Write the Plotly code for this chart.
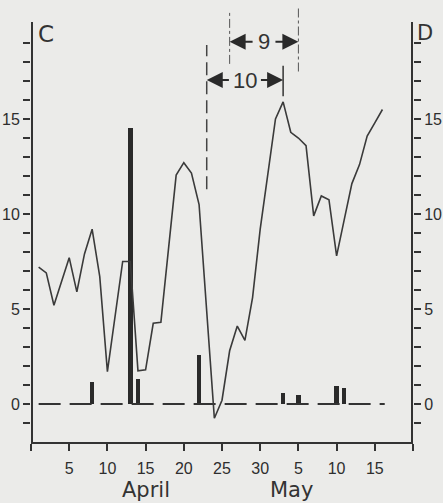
import plotly.graph_objects as go

# ---- data ----
days = list(range(1, 47))  # day index: 1..30 = April 1..30, 31.. = May 1..
values = [7.2, 6.9, 5.2, 6.4, 7.7, 5.9, 7.9, 9.2, 6.7, 1.7,
          4.6, 7.5, 7.5, 1.75, 1.8, 4.25, 4.3, 8.2, 12.05, 12.7,
          12.15, 10.5, 4.9, -0.75, 0.2, 2.8, 4.1, 3.35, 5.6, 9.2,
          12.1, 15.0, 15.9, 14.3, 14.0, 13.6, 9.9, 10.95, 10.75, 7.8,
          9.7, 11.6, 12.6, 14.1, 14.8, 15.5]
bar_days = [8, 13, 14, 22, 33, 35, 40, 41]
bar_values = [1.15, 14.55, 1.3, 2.6, 0.6, 0.5, 0.95, 0.85]
baseline_start = 1
baseline_end = 46.3

x_tickvals = [0, 5, 10, 15, 20, 25, 30, 35, 40, 45, 50]
x_ticktext = ["", "5", "10", "15", "20", "25", "30", "5", "10", "15", ""]
y_tickvals = list(range(-1, 20))
y_ticktext = [str(v) if v in (0, 5, 10, 15) else "" for v in y_tickvals]
month_labels = ["April", "May"]
month_pos = [15, 34.1]

# interval markers (day positions)
dash_line_day = 23
dashdot_days = [26, 35]
solid_mark_day = 33
interval_10 = (23, 33, "10")
interval_9 = (26, 35, "9")

X_MIN, X_MAX = 0, 50
Y_MIN, Y_AXIS_TOP, Y_MAX = -2, 20.1, 21

INK = "#333333"
BG = "#ebebe9"
TICKFONT = dict(family="Liberation Sans Narrow, Arial Narrow, sans-serif", size=16, color="#2e2e2e")

fig = go.Figure()

# vertical axis lines (drawn as traces, stopping at 20)
for xa in (X_MIN, X_MAX):
    fig.add_trace(go.Scatter(x=[xa, xa], y=[Y_MIN, Y_AXIS_TOP], mode="lines",
                             line=dict(color=INK, width=4), hoverinfo="skip"))

fig.add_trace(go.Scatter(
    x=[baseline_start, baseline_end], y=[0, 0], mode="lines",
    line=dict(color=INK, width=2, dash="22px,9px"), hoverinfo="skip"))

fig.add_trace(go.Bar(
    x=bar_days, y=bar_values, width=[0.55, 0.65, 0.55, 0.55, 0.55, 0.55, 0.6, 0.55],
    marker=dict(color="#2a2a2a", line=dict(width=0))))

fig.add_trace(go.Scatter(
    x=days, y=values, mode="lines",
    line=dict(color="#3a3a3a", width=1.6)))

# dummy trace for the right axis
fig.add_trace(go.Scatter(x=[None], y=[None], yaxis="y2", showlegend=False))

shapes = []
shapes.append(dict(type="line", xref="x", yref="y", x0=dash_line_day, x1=dash_line_day,
                   y0=11.3, y1=18.9, line=dict(color="#444444", width=1.5, dash="13px,6px")))
shapes.append(dict(type="line", xref="x", yref="y", x0=dashdot_days[0], x1=dashdot_days[0],
                   y0=17.9, y1=20.7, line=dict(color="#555555", width=1, dash="dashdot")))
shapes.append(dict(type="line", xref="x", yref="y", x0=dashdot_days[1], x1=dashdot_days[1],
                   y0=17.5, y1=20.9, line=dict(color="#555555", width=1, dash="dashdot")))
shapes.append(dict(type="line", xref="x", yref="y", x0=solid_mark_day, x1=solid_mark_day,
                   y0=16.2, y1=17.8, line=dict(color="#333333", width=1.5)))

annotations = []


def interval(a, b, label, yv, gap):
    mid = (a + b) / 2
    for tip, tail in ((a, mid - gap), (b, mid + gap)):
        annotations.append(dict(x=tip, y=yv, ax=tail, ay=yv, xref="x", yref="y",
                                axref="x", ayref="y", text="", showarrow=True,
                                arrowhead=2, arrowsize=1.6, arrowwidth=2, arrowcolor="#2a2a2a",
                                standoff=0, startstandoff=0))
    annotations.append(dict(x=mid, y=yv, xref="x", yref="y", text=label, showarrow=False,
                            font=dict(family="Liberation Sans Narrow, sans-serif", size=22, color=INK)))


interval(*interval_10, yv=17.05, gap=1.9)
interval(*interval_9, yv=19.07, gap=1.3)

for lab, xp in zip(month_labels, month_pos):
    annotations.append(dict(x=xp, y=-0.11, xref="x", yref="paper", text=lab, showarrow=False,
                            yanchor="middle",
                            font=dict(family="DejaVu Sans, sans-serif", size=21, color=INK)))

annotations.append(dict(x=1.9, y=19.5, xref="x", yref="y", text="C", showarrow=False,
                        font=dict(family="DejaVu Sans, sans-serif", size=23, color=INK)))
# "D" sits outside the right axis, so it is placed in paper coordinates
annotations.append(dict(x=1.058, y=19.55, xref="paper", yref="y", text="D", showarrow=False,
                        font=dict(family="DejaVu Sans, sans-serif", size=21, color=INK)))

fig.update_layout(
    width=443, height=503,
    margin=dict(l=31, r=30, t=5, b=61),
    paper_bgcolor=BG, plot_bgcolor=BG,
    showlegend=False, bargap=0,
    shapes=shapes, annotations=annotations,
    xaxis=dict(range=[X_MIN, X_MAX], tickmode="array", tickvals=x_tickvals, ticktext=x_ticktext,
               ticks="outside", ticklen=7, tickwidth=2, tickcolor=INK, automargin=False,
               showline=True, linecolor=INK, linewidth=2, showgrid=False, zeroline=False,
               tickfont=TICKFONT, ticklabelstandoff=4),
    yaxis=dict(range=[Y_MIN, Y_MAX], tickmode="array", tickvals=y_tickvals, ticktext=y_ticktext,
               ticks="outside", ticklen=7, tickwidth=2, tickcolor=INK, automargin=False,
               showline=False, showgrid=False, zeroline=False, tickfont=TICKFONT),
    yaxis2=dict(range=[Y_MIN, Y_MAX], overlaying="y", side="right", tickmode="array",
                tickvals=y_tickvals, ticktext=y_ticktext, automargin=False,
                ticks="outside", ticklen=7, tickwidth=2, tickcolor=INK,
                showline=False, showgrid=False, zeroline=False, tickfont=TICKFONT),
)

fig.write_html(
    "out.html",
    config={"displayModeBar": False},
    post_script="document.body.style.margin='0';document.body.style.background='" + BG + "';",
)
